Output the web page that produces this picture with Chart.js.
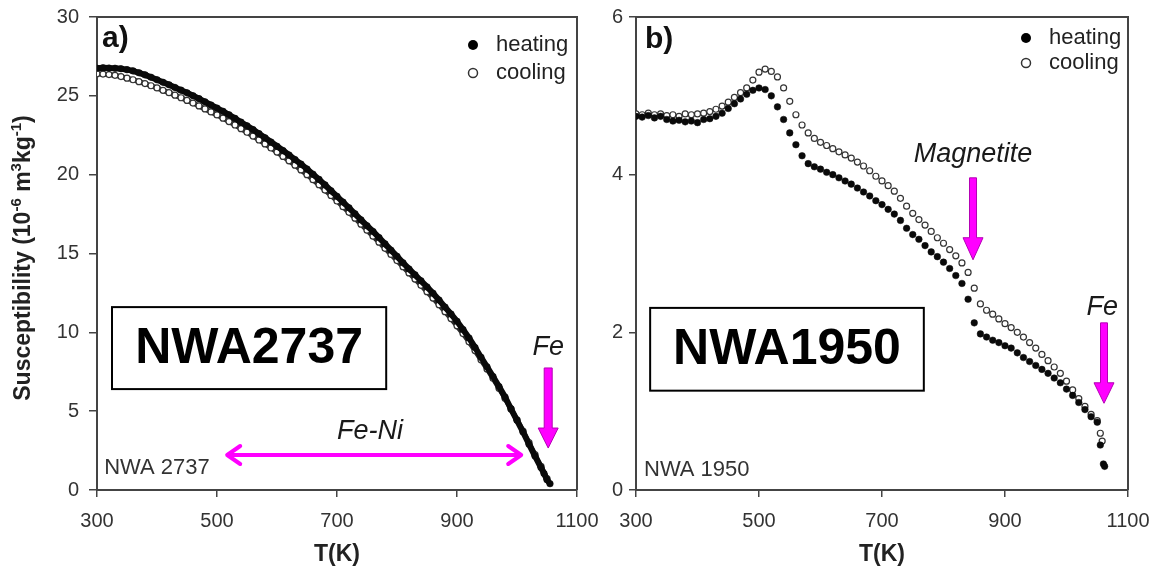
<!DOCTYPE html>
<html>
<head>
<meta charset="utf-8">
<script src="https://cdn.jsdelivr.net/npm/chart.js@4.4.1/dist/chart.umd.min.js"></script>
<style>
  body { margin: 0; background: #fff; }
  #wrap { position: relative; width: 1153px; height: 568px; }
  canvas { position: absolute; top: 0; }
</style>
</head>
<body>
<div id="wrap">
  <canvas id="chartA" width="610" height="568" style="left:0"></canvas>
  <canvas id="chartB" width="563" height="568" style="left:590px"></canvas>
</div>
<script>
const FONT = '"Liberation Sans", Arial, Helvetica, sans-serif';

// a) NWA 2737 - heating
const heatTempsA = [300,310,320,330,340,350,360,370,380,390,400,410,420,430,440,450,460,470,480,490,
  500,510,520,530,540,550,560,570,580,590,600,610,620,630,640,650,660,670,680,690,
  700,710,720,730,740,750,760,770,780,790,800,810,820,830,840,850,860,870,880,890,
  900,910,920,930,940,950,960,970,980,990,1000,1010,1020,1030,1040,1045,1050,1055];
const heatA = [26.75,26.78,26.76,26.75,26.72,26.66,26.58,26.46,26.33,26.18,
  26.02,25.86,25.70,25.53,25.36,25.19,25.01,24.82,24.62,24.42,
  24.22,24.02,23.80,23.57,23.33,23.10,22.86,22.60,22.34,22.07,
  21.80,21.53,21.25,20.96,20.67,20.36,20.03,19.70,19.35,18.98,
  18.62,18.26,17.90,17.52,17.13,16.76,16.40,16.01,15.61,15.21,
  14.82,14.41,14.02,13.65,13.27,12.88,12.48,12.05,11.60,11.16,
  10.70,10.18,9.64,9.04,8.42,7.81,7.20,6.56,5.90,5.15,
  4.42,3.68,2.90,2.15,1.42,1.05,0.65,0.40];
// a) NWA 2737 - cooling
const coolTempsA = [300,310,320,330,340,350,360,370,380,390,400,410,420,430,440,450,460,470,480,490,
  500,510,520,530,540,550,560,570,580,590,600,610,620,630,640,650,660,670,680,690,
  700,710,720,730,740,750,760,770,780,790,800,810,820,830,840,850,860,870,880,890,
  900,910,920,930,940,950,960,970,980,990,1000,1010,1020,1030,1040,1050];
const coolA = [26.40,26.38,26.35,26.30,26.22,26.12,26.02,25.90,25.78,25.64,
  25.50,25.35,25.20,25.04,24.88,24.71,24.54,24.36,24.17,23.98,
  23.79,23.58,23.37,23.15,22.92,22.69,22.45,22.20,21.95,21.69,
  21.43,21.16,20.88,20.60,20.30,20.00,19.68,19.36,19.02,18.68,
  18.33,17.97,17.61,17.24,16.86,16.48,16.10,15.72,15.33,14.94,
  14.55,14.16,13.77,13.38,12.98,12.58,12.17,11.75,11.31,10.87,
  10.41,9.92,9.40,8.84,8.26,7.68,7.08,6.46,5.82,5.14,
  4.45,3.74,3.00,2.24,1.50,0.72];

// b) NWA 1950 - heating
const heatTempsB = [300,310,320,330,340,350,360,370,380,390,400,410,420,430,440,450,460,470,480,490,
  500,510,520,530,540,550,560,570,580,590,600,610,620,630,640,650,660,670,680,690,
  700,710,720,730,740,750,760,770,780,790,800,810,820,830,840,850,860,870,880,890,
  900,910,920,930,940,950,960,970,980,990,1000,1010,1020,1030,1040,1050,1055,1060,1062];
const heatB = [4.74,4.73,4.75,4.72,4.74,4.70,4.68,4.69,4.67,4.68,
  4.66,4.70,4.71,4.74,4.78,4.84,4.90,4.96,5.02,5.07,
  5.10,5.08,5.00,4.86,4.70,4.53,4.38,4.24,4.14,4.10,
  4.07,4.03,4.00,3.96,3.92,3.88,3.83,3.78,3.73,3.67,
  3.62,3.56,3.50,3.42,3.32,3.24,3.18,3.10,3.02,2.96,
  2.89,2.81,2.72,2.62,2.42,2.12,1.98,1.94,1.90,1.87,
  1.83,1.80,1.74,1.68,1.63,1.58,1.53,1.48,1.42,1.36,
  1.28,1.20,1.11,1.02,0.93,0.86,0.57,0.33,0.30];
// b) NWA 1950 - cooling
const coolTempsB = [300,310,320,330,340,350,360,370,380,390,400,410,420,430,440,450,460,470,480,490,
  500,510,520,530,540,550,560,570,580,590,600,610,620,630,640,650,660,670,680,690,
  700,710,720,730,740,750,760,770,780,790,800,810,820,830,840,850,860,870,880,890,
  900,910,920,930,940,950,960,970,980,990,1000,1010,1020,1030,1040,1050,1055,1058];
const coolB = [4.77,4.76,4.78,4.76,4.77,4.75,4.76,4.74,4.77,4.76,
  4.77,4.78,4.80,4.83,4.87,4.92,4.98,5.04,5.10,5.20,
  5.30,5.34,5.31,5.24,5.10,4.93,4.76,4.63,4.53,4.46,
  4.41,4.37,4.33,4.29,4.25,4.21,4.16,4.11,4.05,3.98,
  3.92,3.86,3.79,3.70,3.60,3.51,3.43,3.36,3.28,3.20,
  3.13,3.05,2.97,2.88,2.76,2.56,2.36,2.28,2.23,2.17,
  2.11,2.06,2.00,1.94,1.87,1.80,1.72,1.64,1.56,1.48,
  1.38,1.27,1.16,1.06,0.96,0.88,0.72,0.62];

const seriesNames = ['heating', 'cooling'];
const xTicks = [300, 500, 700, 900, 1100];

const toPoints = (ts, vs) => ts.map((t, i) => ({ x: t, y: vs[i] }));

function drawDownArrow(ctx, x, yTop, yBase, yTip, shaft, head) {
  ctx.beginPath();
  ctx.moveTo(x - shaft, yTop);
  ctx.lineTo(x + shaft, yTop);
  ctx.lineTo(x + shaft, yBase);
  ctx.lineTo(x + head, yBase);
  ctx.lineTo(x, yTip);
  ctx.lineTo(x - head, yBase);
  ctx.lineTo(x - shaft, yBase);
  ctx.closePath();
  ctx.fillStyle = '#ff00ff';
  ctx.fill();
  ctx.strokeStyle = '#b400b4';
  ctx.lineWidth = 1;
  ctx.stroke();
}

function drawYTitle(ctx, cx, cy) {
  const parts = [['Susceptibility (10', false], ['-6', true], [' m', false], ['3', true], ['kg', false], ['-1', true], [')', false]];
  const big = 'bold 23px ' + FONT, small = 'bold 15px ' + FONT;
  let total = 0;
  parts.forEach(([s, sup]) => { ctx.font = sup ? small : big; total += ctx.measureText(s).width; });
  ctx.save();
  ctx.translate(cx, cy);
  ctx.rotate(-Math.PI / 2);
  ctx.textAlign = 'left';
  ctx.textBaseline = 'alphabetic';
  ctx.fillStyle = '#222';
  let xx = -total / 2;
  parts.forEach(([s, sup]) => {
    ctx.font = sup ? small : big;
    ctx.fillText(s, xx, sup ? -1 : 8);
    xx += ctx.measureText(s).width;
  });
  ctx.restore();
}

const panelDecor = {
  id: 'panelDecor',
  afterDraw(chart, args, o) {
    const { ctx, chartArea: a, scales: { x, y } } = chart;
    const px = v => x.getPixelForValue(v);
    const py = v => y.getPixelForValue(v);
    ctx.save();

    // top and right frame
    ctx.strokeStyle = '#444';
    ctx.lineWidth = 2;
    ctx.beginPath();
    ctx.moveTo(a.left, a.top);
    ctx.lineTo(a.right, a.top);
    ctx.lineTo(a.right, a.bottom);
    ctx.stroke();

    // panel letter
    ctx.fillStyle = '#111';
    ctx.font = 'bold 30px ' + FONT;
    ctx.textAlign = 'left';
    ctx.textBaseline = 'middle';
    ctx.fillText(o.letter, a.left + o.letterX, a.top + o.letterY);

    // legend
    const lx = a.right + o.legend.dx;
    ctx.beginPath();
    ctx.arc(lx, a.top + o.legend.y1, 5, 0, Math.PI * 2);
    ctx.fillStyle = '#000';
    ctx.fill();
    ctx.beginPath();
    ctx.arc(lx, a.top + o.legend.y2, 4.5, 0, Math.PI * 2);
    ctx.fillStyle = '#fff';
    ctx.fill();
    ctx.strokeStyle = '#333';
    ctx.lineWidth = 1.5;
    ctx.stroke();
    ctx.fillStyle = '#222';
    ctx.font = '22px ' + FONT;
    ctx.fillText(seriesNames[0], lx + 23, a.top + o.legend.y1);
    ctx.fillText(seriesNames[1], lx + 23, a.top + o.legend.y2);

    // sample box
    const b = o.box;
    const bx1 = px(b.t1), bx2 = px(b.t2), by1 = py(b.v1), by2 = py(b.v2);
    ctx.lineWidth = 2;
    ctx.strokeStyle = '#000';
    ctx.strokeRect(bx1, by1, bx2 - bx1, by2 - by1);
    ctx.fillStyle = '#000';
    ctx.font = 'bold 50px ' + FONT;
    ctx.textAlign = 'center';
    ctx.fillText(b.text, (bx1 + bx2) / 2, (by1 + by2) / 2 + 1);

    // sample name in corner
    ctx.font = '22px ' + FONT;
    ctx.fillStyle = '#333';
    ctx.textAlign = 'left';
    ctx.fillText(o.name.text, px(o.name.t), py(o.name.v));

    // italic labels
    ctx.font = 'italic 27px ' + FONT;
    ctx.fillStyle = '#1a1a1a';
    ctx.textAlign = 'center';
    o.labels.forEach(l => ctx.fillText(l.text, px(l.t), py(l.v)));

    // arrows
    o.down.forEach(d => drawDownArrow(ctx, px(d.t), py(d.top), py(d.base), py(d.tip), d.shaft, 10));
    o.both.forEach(d => {
      const x1 = px(d.t1), x2 = px(d.t2), yy = py(d.v);
      ctx.strokeStyle = '#ff00ff';
      ctx.lineWidth = 4;
      ctx.lineCap = 'round';
      ctx.lineJoin = 'round';
      ctx.beginPath();
      ctx.moveTo(x1, yy); ctx.lineTo(x2, yy);
      ctx.moveTo(x1 + 13, yy - 9); ctx.lineTo(x1, yy); ctx.lineTo(x1 + 13, yy + 9);
      ctx.moveTo(x2 - 13, yy - 9); ctx.lineTo(x2, yy); ctx.lineTo(x2 - 13, yy + 9);
      ctx.stroke();
    });

    if (o.yTitle) drawYTitle(ctx, 22, 258);
    ctx.restore();
  }
};

function makePanel(id, cfg) {
  return new Chart(document.getElementById(id), {
    type: 'scatter',
    data: {
      datasets: [
        { label: seriesNames[0], data: toPoints(cfg.heatT, cfg.heatV), pointRadius: 3.3,
          pointBackgroundColor: '#0a0a0a', pointBorderColor: '#0a0a0a', pointBorderWidth: 0.5,
          showLine: cfg.band > 0, borderColor: '#0a0a0a', borderWidth: cfg.band, tension: 0 },
        { label: seriesNames[1], data: toPoints(cfg.coolT, cfg.coolV), pointRadius: 3,
          pointBackgroundColor: '#fff', pointBorderColor: '#333', pointBorderWidth: 1.2,
          showLine: cfg.band > 0, borderColor: '#2a2a2a', borderWidth: cfg.band - 1, tension: 0 }
      ]
    },
    options: {
      responsive: false,
      animation: false,
      devicePixelRatio: 1,
      layout: { padding: { left: 0, top: 17, right: cfg.padRight, bottom: 0 } },
      plugins: { legend: { display: false }, tooltip: { enabled: false }, panelDecor: cfg.decor },
      scales: {
        x: {
          type: 'linear', min: xTicks[0], max: xTicks[xTicks.length - 1],
          afterFit: s => { s.height = 78; s.paddingLeft = 0; s.paddingRight = 0; },
          afterBuildTicks: s => { s.ticks = xTicks.map(v => ({ value: v })); },
          ticks: { color: '#333', font: { family: FONT, size: 20 }, padding: 12, maxRotation: 0, autoSkip: false,
                   callback: v => String(v) },
          grid: { display: true, drawOnChartArea: false, drawTicks: true, tickLength: 7, color: '#444', lineWidth: 1.5 },
          border: { display: true, color: '#444', width: 2 },
          title: { display: true, text: 'T(K)', color: '#222', font: { family: FONT, size: 23, weight: 'bold' }, padding: { top: 0, bottom: 0 } }
        },
        y: {
          min: 0, max: cfg.yMax,
          afterFit: s => { s.width = cfg.yWidth; s.paddingTop = 0; s.paddingBottom = 0; },
          ticks: { stepSize: cfg.yStep, color: '#333', font: { family: FONT, size: 20 }, padding: cfg.yPad, autoSkip: false },
          grid: { display: true, drawOnChartArea: false, drawTicks: true, tickLength: cfg.yTick, color: '#444', lineWidth: 1.5 },
          border: { display: true, color: '#444', width: 2 }
        }
      }
    },
    plugins: [panelDecor]
  });
}

makePanel('chartA', {
  heatT: heatTempsA, heatV: heatA, coolT: coolTempsA, coolV: coolA, band: 6,
  yMax: 30, yStep: 5, yWidth: 97, yTick: 8, yPad: 10, padRight: 33,
  decor: {
    letter: 'a)', letterX: 5, letterY: 22,
    legend: { dx: -104, y1: 28, y2: 56 },
    box: { t1: 325, t2: 782, v1: 11.6, v2: 6.4, text: 'NWA2737' },
    name: { text: 'NWA 2737', t: 312, v: 1.4 },
    labels: [{ text: 'Fe-Ni', t: 755, v: 3.68 }, { text: 'Fe', t: 1052, v: 9.07 }],
    down: [{ t: 1052, top: 7.74, base: 3.93, tip: 2.66, shaft: 4 }],
    both: [{ t1: 517, t2: 1007, v: 2.22 }],
    yTitle: true
  }
});

makePanel('chartB', {
  heatT: heatTempsB, heatV: heatB, coolT: coolTempsB, coolV: coolB, band: 0,
  yMax: 6, yStep: 2, yWidth: 46, yTick: 7, yPad: 6, padRight: 25,
  decor: {
    letter: 'b)', letterX: 9, letterY: 23,
    legend: { dx: -102, y1: 21, y2: 46 },
    box: { t1: 323, t2: 768, v1: 2.31, v2: 1.26, text: 'NWA1950' },
    name: { text: 'NWA 1950', t: 313, v: 0.25 },
    labels: [{ text: 'Magnetite', t: 848, v: 4.25 }, { text: 'Fe', t: 1058, v: 2.32 }],
    down: [{ t: 848, top: 3.96, base: 3.2, tip: 2.92, shaft: 3.5 }, { t: 1061, top: 2.12, base: 1.36, tip: 1.10, shaft: 3.5 }],
    both: [],
    yTitle: false
  }
});
</script>
</body>
</html>
